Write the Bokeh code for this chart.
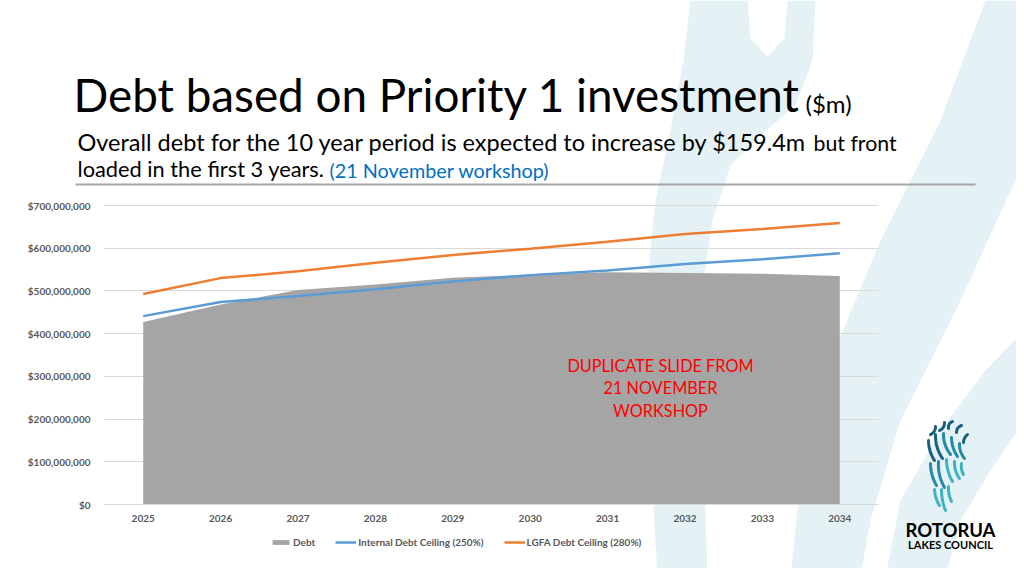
import numpy as np
from bokeh.plotting import figure
from bokeh.models import Range1d, FixedTicker, NumeralTickFormatter, Legend, LegendItem
from bokeh.core.properties import value
from bokeh.embed import file_html
from bokeh.resources import INLINE

# ---------------- data ----------------
years = [2025, 2026, 2027, 2028, 2029, 2030, 2031, 2032, 2033, 2034]
debt = [427e6, 468e6, 502e6, 515e6, 531e6, 538e6, 544e6, 542e6, 540e6, 535e6]
internal_ceiling = [441e6, 474e6, 488e6, 504e6, 522e6, 537e6, 548e6, 563e6, 574e6, 588e6]
lgfa_ceiling = [493e6, 530e6, 546e6, 566e6, 584e6, 599e6, 615e6, 633e6, 645e6, 659e6]
series_names = ["Debt", "Internal Debt Ceiling (250%)", "LGFA Debt Ceiling (280%)"]
y_ticks = [0, 100e6, 200e6, 300e6, 400e6, 500e6, 600e6, 700e6]

title_main = "Debt based on Priority 1 investment"
title_unit = "($m)"
sub1a = "Overall debt for the 10 year period is expected to increase by $159.4m"
sub1b = "but front"
sub2a = "loaded in the first 3 years."
sub2b = "(21 November workshop)"
note_lines = ["DUPLICATE SLIDE FROM", "21 NOVEMBER", "WORKSHOP"]

# ---------------- layout geometry (page pixels) ----------------
W, H = 1016, 568
PL, PR, PT, PB = 104, 878, 205, 504   # plot-area edges
X0, X1, Y0, Y1 = 2024.5, 2034.5, 0, 700e6


def xd(X):
    return X0 + (X - PL) * (X1 - X0) / (PR - PL)


def yd(Y):
    return Y0 + (PB - Y) * (Y1 - Y0) / (PB - PT)


p = figure(width=W, height=H, output_backend="svg", toolbar_location=None,
           x_range=Range1d(xd(0), xd(W)), y_range=Range1d(yd(H), yd(0)),
           min_border=0, min_border_left=0, min_border_right=0,
           min_border_top=0, min_border_bottom=0)
p.outline_line_color = None
p.background_fill_color = "white"
p.border_fill_color = "white"

# ---- watermark (decorative) ----
wm_color = "#E4F2F5"
bands = [
    [(690, 0), (747, 0), (750, 38), (767, 56), (784, 38), (787, 0), (815, 0), (812, 60),
     (795, 105), (760, 135), (730, 165), (712, 220), (700, 300), (702, 420), (707, 576),
     (657, 576), (648, 420), (645, 300), (655, 200), (670, 130), (683, 60)],
    [(985, 0), (1024, 0), (1024, 160), (960, 300), (900, 420), (870, 520), (860, 576), (790, 576),
     (800, 480), (830, 360), (880, 240), (940, 120)],
    [(1024, 330), (1024, 420), (990, 470), (960, 520), (945, 576), (885, 576), (900, 500),
     (940, 430), (985, 370)],
]
p.patches(xs=[[xd(x) for x, _ in b] for b in bands], ys=[[yd(y) for _, y in b] for b in bands],
          fill_color=wm_color, line_alpha=0, level="image")

# ---- data marks ----
area = p.varea(x=years, y1=0, y2=debt, fill_color="#A5A5A5")
l1 = p.line(years, internal_ceiling, line_color="#5B9BD5", line_width=2.5)
l2 = p.line(years, lgfa_ceiling, line_color="#ED7D31", line_width=2.5)

# ---- axes (drawn at fixed data locations inside the canvas) ----
xa, ya = p.xaxis[0], p.yaxis[0]
xa.fixed_location = 0
ya.fixed_location = X0
xa.bounds = (X0, X1)
ya.bounds = (Y0, Y1)
xa.ticker = FixedTicker(ticks=years)
ya.ticker = FixedTicker(ticks=y_ticks)
ya.formatter = NumeralTickFormatter(format="$0,0")
for ax in (xa, ya):
    ax.major_tick_line_color = None
    ax.minor_tick_line_color = None
    ax.major_label_text_font = "Lato"
    ax.major_label_text_font_size = "10px"
    ax.major_label_text_font_style = "bold"
    ax.major_label_text_color = "#595959"
xa.axis_line_color = "#D9D9D9"
xa.major_label_standoff = 4
ya.axis_line_color = None
ya.major_label_standoff = 8
p.xgrid.grid_line_color = None
g = p.ygrid[0]
g.grid_line_color = "#D9D9D9"
g.bounds = (Y0, Y1)
if "cross_bounds" in g.properties():
    g.cross_bounds = (X0, X1)
else:
    g.grid_line_color = None
    p.segment(x0=[X0] * len(y_ticks), y0=y_ticks, x1=[X1] * len(y_ticks), y1=y_ticks,
              line_color="#D9D9D9", line_width=1, level="underlay")

# ---- legend ----
legend = Legend(items=[LegendItem(label=series_names[0], renderers=[area]),
                       LegendItem(label=series_names[1], renderers=[l1]),
                       LegendItem(label=series_names[2], renderers=[l2])],
                orientation="horizontal", location=(270, 20),
                glyph_width=21, glyph_height=6, label_height=12, label_standoff=2, spacing=20,
                padding=0, margin=0, border_line_color=None, background_fill_alpha=0,
                label_text_font="Lato", label_text_font_size="10px", label_text_font_style="bold",
                label_text_color="#595959")
p.add_layout(legend)

BASE_K = 0.39  # baseline correction of the text glyph (fraction of font size)


def txt(t, X, Y, size, color="#000000", style="normal", align="left"):
    Yb = Y - BASE_K * size
    p.text(x=[xd(X)], y=[yd(Yb)], text=[t], text_font=value("Lato"),
           text_font_size=value(f"{size}px"), text_color=color, text_font_style=style,
           text_align=align, text_baseline="alphabetic")


# ---- titles ----
txt(title_main, 73, 112, 45.8)
txt(title_unit, 805, 112, 24)
txt(sub1a, 77, 151, 23.5)
txt(sub1b, 813, 151, 21.3)
txt(sub2a, 77, 177, 21.8)
txt(sub2b, 329, 177, 19.8, color="#0070C0")
p.segment(x0=[xd(75)], y0=[yd(184)], x1=[xd(975)], y1=[yd(184)], line_color="#A6A6A6",
          line_width=2)

# ---- red note ----
for i, t in enumerate(note_lines):
    txt(t, 660, 371 + i * 22.8, 16.3, color="#FF0000", align="center")


# ---- logo (decorative) ----
def curve(p0, p1, bend):
    t = np.linspace(0, 1, 9)
    mx, my = (p0[0] + p1[0]) / 2, (p0[1] + p1[1]) / 2
    dx, dy = p1[0] - p0[0], p1[1] - p0[1]
    L = (dx * dx + dy * dy) ** 0.5
    cx, cy = mx - dy / L * bend, my + dx / L * bend
    xs = (1 - t) ** 2 * p0[0] + 2 * (1 - t) * t * cx + t ** 2 * p1[0]
    ys = (1 - t) ** 2 * p0[1] + 2 * (1 - t) * t * cy + t ** 2 * p1[1]
    return [xd(v) for v in xs], [yd(v) for v in ys]


dark, mid, light = "#1B5F80", "#2689A6", "#3FB2C0"
strokes = [
    ((930, 434), (935, 426), 3, dark), ((939, 430), (944, 422), 3, dark),
    ((948, 428), (952, 421), -3, dark), ((956, 432), (961, 425), -3, dark),
    ((963, 442), (967, 434), -2, dark),
    ((928, 440), (934, 460), 3, dark), ((935, 434), (942, 458), 4, dark),
    ((943, 433), (950, 454), 4, mid), ((951, 437), (957, 456), 3, mid),
    ((959, 443), (964, 458), 3, mid),
    ((930, 463), (936, 485), 3, mid), ((938, 461), (944, 487), 4, mid),
    ((946, 459), (952, 481), 3, light), ((954, 461), (959, 478), 3, light),
    ((961, 463), (963, 474), 2, light),
    ((934, 489), (939, 505), 2, light), ((941, 489), (945, 510), 2, light),
    ((948, 486), (951, 501), 2, light),
]
for a, b, bend, col in strokes:
    cx_, cy_ = curve(a, b, bend)
    p.line(cx_, cy_, line_color=col, line_width=3, line_cap="round")

txt("ROTORUA", 950, 537, 18.5, style="bold", align="center")
txt("LAKES COUNCIL", 950, 548, 11, style="bold", align="center")

open("out.html", "w").write(file_html(p, INLINE))
